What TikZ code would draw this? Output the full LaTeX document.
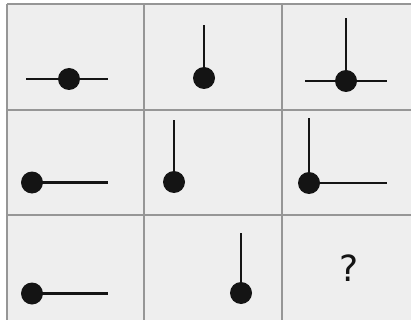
\documentclass[tikz,border=0pt]{standalone}
\usepackage{fontspec}
\newfontfamily\qfont{DejaVu Sans}
\definecolor{cellGray}{RGB}{238,238,238}
\definecolor{gridGray}{RGB}{150,150,150}
\definecolor{inkBlack}{RGB}{20,20,20}
\usetikzlibrary{positioning}

\begin{document}
\begin{tikzpicture}[
    x=1pt, y=-1pt,
    gridline/.style={draw=gridGray, line width=1.6pt},
    stick/.style={draw=inkBlack, line width=2.8pt},
    dot/.style={circle, fill=inkBlack, inner sep=0pt, minimum size=22pt},
    qmark/.style={font=\qfont\fontsize{36}{36}\selectfont, text=inkBlack},
  ]
    \useasboundingbox (0,0) rectangle (411,320);
    \clip (0,0) rectangle (411,320);

    % Grid
    \fill[cellGray] (7,4) rectangle (425,330);
    \foreach \x in {7,144,282} \draw[gridline] (\x,4) -- (\x,330);
    \foreach \y in {4,110,215} \draw[gridline] (7,\y) -- (425,\y);

    % Row 1
    \node[dot] (d11) at (69,79) {};
    \coordinate (a11) at (26,79);
    \coordinate (b11) at (108,79);
    \draw[stick] (a11) -- (b11);

    \node[dot] (d12) at (204,78) {};
    \coordinate (t12) at (204,25);
    \draw[stick] (d12.center) -- (t12);

    \node[dot] (d13) at (346,81) {};
    \coordinate (t13) at (346,18);
    \coordinate (a13) at (305,81);
    \coordinate (b13) at (387,81);
    \draw[stick] (d13.center) -- (t13);
    \draw[stick] (a13) -- (b13);

    % Row 2
    \node[dot] (d21) at (32,182.5) {};
    \coordinate (b21) at (108,182.5);
    \draw[stick] (d21.center) -- (b21);

    \node[dot] (d22) at (174,182) {};
    \coordinate (t22) at (174,120);
    \draw[stick] (d22.center) -- (t22);

    \node[dot] (d23) at (309,183) {};
    \coordinate (t23) at (309,118);
    \coordinate (b23) at (387,183);
    \draw[stick] (d23.center) -- (t23);
    \draw[stick] (d23.center) -- (b23);

    % Row 3
    \node[dot] (d31) at (32,293.5) {};
    \coordinate (b31) at (108,293.5);
    \draw[stick] (d31.center) -- (b31);

    \node[dot] (d32) at (241,293) {};
    \coordinate (t32) at (241,233);
    \draw[stick] (d32.center) -- (t32);

    \node[qmark] (q33) at (349,268) {?};
  \end{tikzpicture}
\end{document}
